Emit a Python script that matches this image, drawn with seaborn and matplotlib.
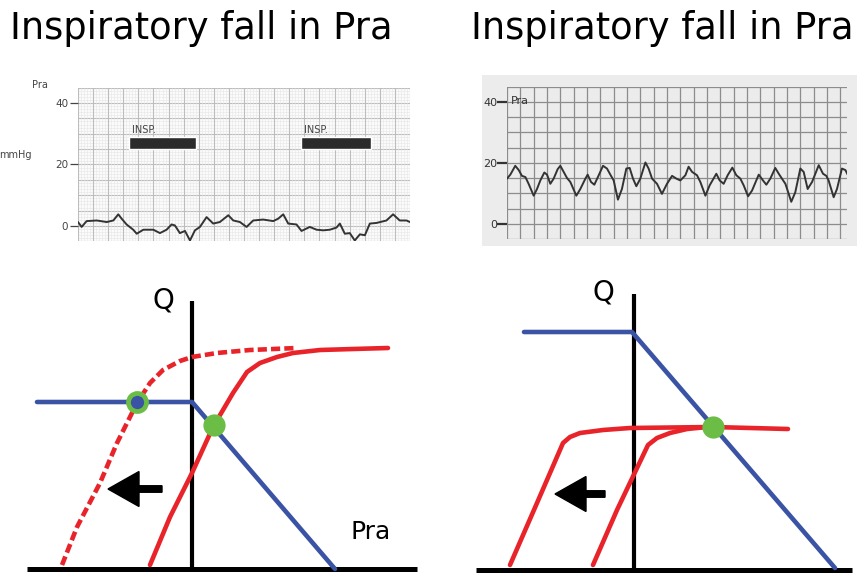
import numpy as np
import matplotlib
matplotlib.use("Agg")
import matplotlib.pyplot as plt
from matplotlib.ticker import MultipleLocator
import seaborn as sns

W, H = 861, 574

# --- strip chart 1: Pra trace, normal heart (x in chart divisions, y in mmHg)
trace1_t = [0.0, 0.24, 0.57, 1.24, 1.9, 2.34, 2.67, 2.89, 3.22, 3.66, 3.89, 4.33, 4.99,
            5.43, 5.87, 6.2, 6.42, 6.75, 7.09, 7.42, 7.75, 8.08, 8.52, 8.96, 9.4, 9.96,
            10.29, 10.73, 11.17, 11.61, 12.27, 12.94, 13.27, 13.6, 13.93, 14.48, 14.81,
            15.36, 15.81, 16.25, 16.69, 17.13, 17.35, 17.68, 18.01, 18.34, 18.68, 19.01,
            19.34, 19.78, 20.44, 20.88, 21.32, 21.77, 21.99]
trace1_p = [1.3, -0.3, 1.6, 1.8, 1.3, 1.8, 3.8, 2.4, 0.5, -1.2, -2.5, -1.2, -1.2,
            -2.3, -1.2, 0.5, 0.2, -2.3, -1.6, -4.7, -1.4, -0.3, 2.9, 0.8, 1.3, 3.5,
            1.8, 1.3, -0.3, 1.8, 2.1, 1.6, 2.4, 3.8, 0.8, 0.5, -1.6,
            -0.3, -1.2, -1.4, -1.2, -0.5, 0.8, -2.5, -2.3, -4.7, -2.7, -3.0,
            0.8, 1.0, 1.8, 3.8, 1.8, 1.8, 1.3]
insp_start = [3.4, 14.8]
insp_end = [7.8, 19.4]
insp_low, insp_high = 25, 29

# --- strip chart 2: Pra trace, failing heart
trace2_t = [0, 0.25, 0.62, 0.88, 1.12, 1.38, 1.62, 2.0, 2.25, 2.5, 2.8, 3.0, 3.25, 3.5,
            3.8, 4.0, 4.25, 4.5, 4.75, 5.2, 5.5, 5.88, 6.05, 6.3, 6.55, 6.88, 7.2, 7.5,
            7.75, 8.0, 8.32, 8.62, 8.95, 9.2, 9.45, 9.7, 10.0, 10.38, 10.62, 10.88, 11.25,
            11.62, 12.0, 12.38, 12.7, 13.0, 13.38, 13.62, 13.88, 14.25, 14.5, 14.88, 15.2,
            15.7, 15.95, 16.25, 16.55, 16.9, 17.2, 17.5, 17.75, 18.08, 18.38, 18.88, 19.2,
            19.45, 19.75, 20.12, 20.38, 20.62, 20.88, 21.32, 21.62, 22.0, 22.25, 22.55,
            22.88, 23.38, 23.7, 23.95, 24.12, 24.5, 24.75, 25.12, 25.38, 25.55]
trace2_p = [14.8, 16.1, 19.0, 17.6, 15.7, 15.3, 13.1, 9.2, 11.4, 14.2, 16.8, 16.1, 13.1, 14.8,
            17.9, 19.0, 17.0, 15.0, 13.7, 9.2, 11.4, 14.8, 16.1, 13.7, 12.8, 15.9, 19.0, 18.1,
            16.1, 14.2, 7.9, 11.4, 18.1, 18.3, 14.8, 12.3, 14.8, 20.1, 18.1, 14.8, 13.1,
            9.8, 13.1, 15.7, 14.8, 14.2, 15.9, 18.7, 17.0, 15.9, 13.7, 9.2, 12.6,
            16.4, 14.2, 13.1, 15.9, 18.4, 15.9, 14.8, 12.6, 9.0, 10.9, 16.1, 14.2,
            12.8, 14.8, 18.3, 16.4, 14.8, 13.1, 7.2, 10.3, 18.1, 17.0, 11.4,
            13.7, 19.2, 16.4, 15.7, 14.2, 8.7, 11.4, 18.1, 17.6, 16.1]

# --- Guyton diagram, left (normal): x = Pra, y = Q (arbitrary units)
L_axis_x = [-16.5, 22.5]
L_axis_top = 26.8
L_venous_x = [-15.5, 0, 14.3]
L_venous_y = [16.7, 16.7, 0.0]
L_card_x = [-4.2, -2.2, 0, 2.1, 4.1, 5.5, 6.8, 8.5, 10.1, 12.8, 16.1, 19.6]
L_card_y = [0.4, 5.2, 9.6, 14.2, 17.6, 19.7, 20.6, 21.2, 21.6, 21.9, 22.0, 22.1]
L_insp_x = [-13.0, -11.5, -9.2, -7.5, -5.5, -4.2, -2.9, -1.2, 0, 2.5, 5.8, 10.5]
L_insp_y = [0.4, 4.2, 8.6, 12.6, 16.6, 18.6, 19.9, 20.8, 21.2, 21.6, 21.9, 22.1]
L_eq_x, L_eq_y = [2.2], [14.4]
L_eq2_x, L_eq2_y = [-5.5], [16.7]
L_arrow = (-3.0, 8.0, -5.4)

# --- Guyton diagram, right (failing heart)
R_axis_x = [-15.8, 21.8]
R_axis_top = 27.6
R_venous_x = [-11.0, -0.2, 20.1]
R_venous_y = [23.8, 23.8, 0.2]
R_insp_x = [-12.4, -9.7, -7.1, -6.4, -5.4, -3.1, -0.4, 7.9, 15.4]
R_insp_y = [0.5, 6.7, 12.7, 13.3, 13.7, 14.0, 14.2, 14.3, 14.1]
R_card_x = [-4.1, -1.7, 1.4, 2.3, 3.6, 5.3, 7.3]
R_card_y = [0.5, 6.0, 12.5, 13.2, 13.7, 14.1, 14.3]
R_eq_x, R_eq_y = [7.9], [14.3]
R_arrow = (-2.9, 7.6, -5.0)

RED = "#e8242a"
BLUE = "#3a53a4"
GREEN = "#6cbd45"

sns.set_theme(style="white")
plt.rcParams["font.family"] = ["DejaVu Sans"]
plt.rcParams["text.color"] = "black"

fig = plt.figure(figsize=(W / 100, H / 100), dpi=100)
fig.patch.set_facecolor("white")


def px_axes(x0, y0, x1, y1, **kw):
    return fig.add_axes([x0 / W, 1 - y1 / H, (x1 - x0) / W, (y1 - y0) / H], **kw)


# titles
fig.text(10 / W, 1 - 39 / H, "Inspiratory fall in Pra", fontsize=26.5, va="baseline", ha="left")
fig.text(471 / W, 1 - 39 / H, "Inspiratory fall in Pra", fontsize=26.5, va="baseline", ha="left")

# ---------------- strip chart 1
ax1 = px_axes(78, 87.6, 410, 241.4)
ax1.set_facecolor("#fbfbfb")
ax1.set_xlim(0, 22)
ax1.set_ylim(-5, 45)
ax1.xaxis.set_major_locator(MultipleLocator(1))
ax1.xaxis.set_minor_locator(MultipleLocator(0.2))
ax1.set_yticks([0, 20, 40])
ax1.set_yticklabels(["0", "20", "40"])
ax1.xaxis.grid(True, which="major", color="#bdbdbd", lw=0.8)
ax1.xaxis.grid(True, which="minor", color="#e6e6e6", lw=0.4)
ax1.yaxis.grid(False)
for v in range(-5, 46, 1):
    ax1.axhline(v, color="#e6e6e6", lw=0.4, zorder=0.4)
for v in range(-5, 46, 5):
    ax1.axhline(v, color="#bdbdbd", lw=0.8, zorder=0.5)
ax1.tick_params(axis="y", which="major", left=True, length=6, width=0.9, color="#444",
                labelsize=7.5, labelcolor="#444", pad=1)
ax1.tick_params(axis="x", which="both", bottom=False, labelbottom=False)
for s in ax1.spines.values():
    s.set_visible(False)
sns.lineplot(x=trace1_t, y=trace1_p, ax=ax1, color="#333333", lw=1.4)
ax1.broken_barh([(s, e - s) for s, e in zip(insp_start, insp_end)],
                (insp_low, insp_high - insp_low), facecolors="#2b2b2b", zorder=3)
for s in insp_start:
    ax1.text(s + 0.2, insp_high + 0.6, "INSP.", fontsize=7, color="#444",
             ha="left", va="bottom")
ax1.text(-2.5, 45.9, "Pra", fontsize=7, color="#444", ha="center", va="center",
         clip_on=False)
ax1.text(-5.2, 23, "mmHg", fontsize=7, color="#444", ha="left", va="center",
         clip_on=False)

# ---------------- strip chart 2 (photo background first, then the grid axes)
bg = px_axes(482, 75, 857, 246)
bg.set_facecolor("#ececec")
bg.set_xticks([])
bg.set_yticks([])
for s in bg.spines.values():
    s.set_visible(False)

ax2 = px_axes(507, 86.5, 847, 239)
ax2.set_facecolor("#ececec")
ax2.set_xlim(0, 25.5)
ax2.set_ylim(-5, 45)
ax2.xaxis.set_major_locator(MultipleLocator(1))
ax2.set_yticks([0, 20, 40])
ax2.set_yticklabels(["0", "20", "40"])
ax2.xaxis.grid(True, color="#8c8c8c", lw=0.9)
ax2.yaxis.grid(False)
for v in range(-5, 46, 5):
    ax2.axhline(v, color="#8c8c8c", lw=0.9, zorder=0.5)
ax2.tick_params(axis="y", left=True, length=7, width=1.6, color="#333",
                labelsize=8, labelcolor="#333", pad=0)
ax2.tick_params(axis="x", bottom=False, labelbottom=False)
for s in ax2.spines.values():
    s.set_visible(False)
sns.lineplot(x=trace2_t, y=trace2_p, ax=ax2, color="#333333", lw=1.4)
ax2.text(0.3, 40.3, "Pra", fontsize=8, color="#333", ha="left", va="center")


# ---------------- Guyton diagrams
def guyton(ax, axis_x, axis_top, ven_x, ven_y, curves, eq_pts, arrow, q_xy):
    ax.set_axis_off()
    ax.plot(axis_x, [0, 0], color="black", lw=3.6, solid_capstyle="butt", zorder=2)
    ax.plot([0, 0], [0, axis_top], color="black", lw=3.0, solid_capstyle="butt", zorder=2)
    for cx, cy, ls in curves:
        sns.lineplot(x=cx, y=cy, ax=ax, color=RED, lw=3.3, sort=False,
                     linestyle=ls, zorder=3)
    sns.lineplot(x=ven_x, y=ven_y, ax=ax, color=BLUE, lw=3.3, sort=False, zorder=4)
    for ex, ey, ring in eq_pts:
        if ring:
            ax.plot(ex, ey, "o", ms=13, mfc=BLUE, mec=GREEN, mew=3.4, zorder=5)
        else:
            ax.plot(ex, ey, "o", ms=16, mfc=GREEN, mec="none", zorder=5)
    x0, y0, dx = arrow
    ax.arrow(x0, y0, dx, 0, width=0.65, head_width=3.5, head_length=3.1,
             length_includes_head=True, color="black", zorder=5)
    ax.text(q_xy[0], q_xy[1], "Q", fontsize=20, ha="center", va="center")


axL = px_axes(0, 270, 430, 574)
axL.set_xlim(-19.2, 23.8)
axL.set_ylim(-0.5, 29.9)
guyton(axL, L_axis_x, L_axis_top, L_venous_x, L_venous_y,
       [(L_card_x, L_card_y, "-"), (L_insp_x, L_insp_y, (0, (2.0, 0.9)))],
       [(L_eq_x, L_eq_y, False), (L_eq2_x, L_eq2_y, True)], L_arrow, (-2.9, 26.9))
axL.text(17.9, 3.7, "Pra", fontsize=18, ha="center", va="center")

axR = px_axes(430, 270, 861, 574)
axR.set_xlim(-20.4, 22.7)
axR.set_ylim(-0.4, 30)
guyton(axR, R_axis_x, R_axis_top, R_venous_x, R_venous_y,
       [(R_card_x, R_card_y, "-"), (R_insp_x, R_insp_y, "-")],
       [(R_eq_x, R_eq_y, False)], R_arrow, (-3.1, 27.7))

fig.savefig("out.png", dpi=100)
